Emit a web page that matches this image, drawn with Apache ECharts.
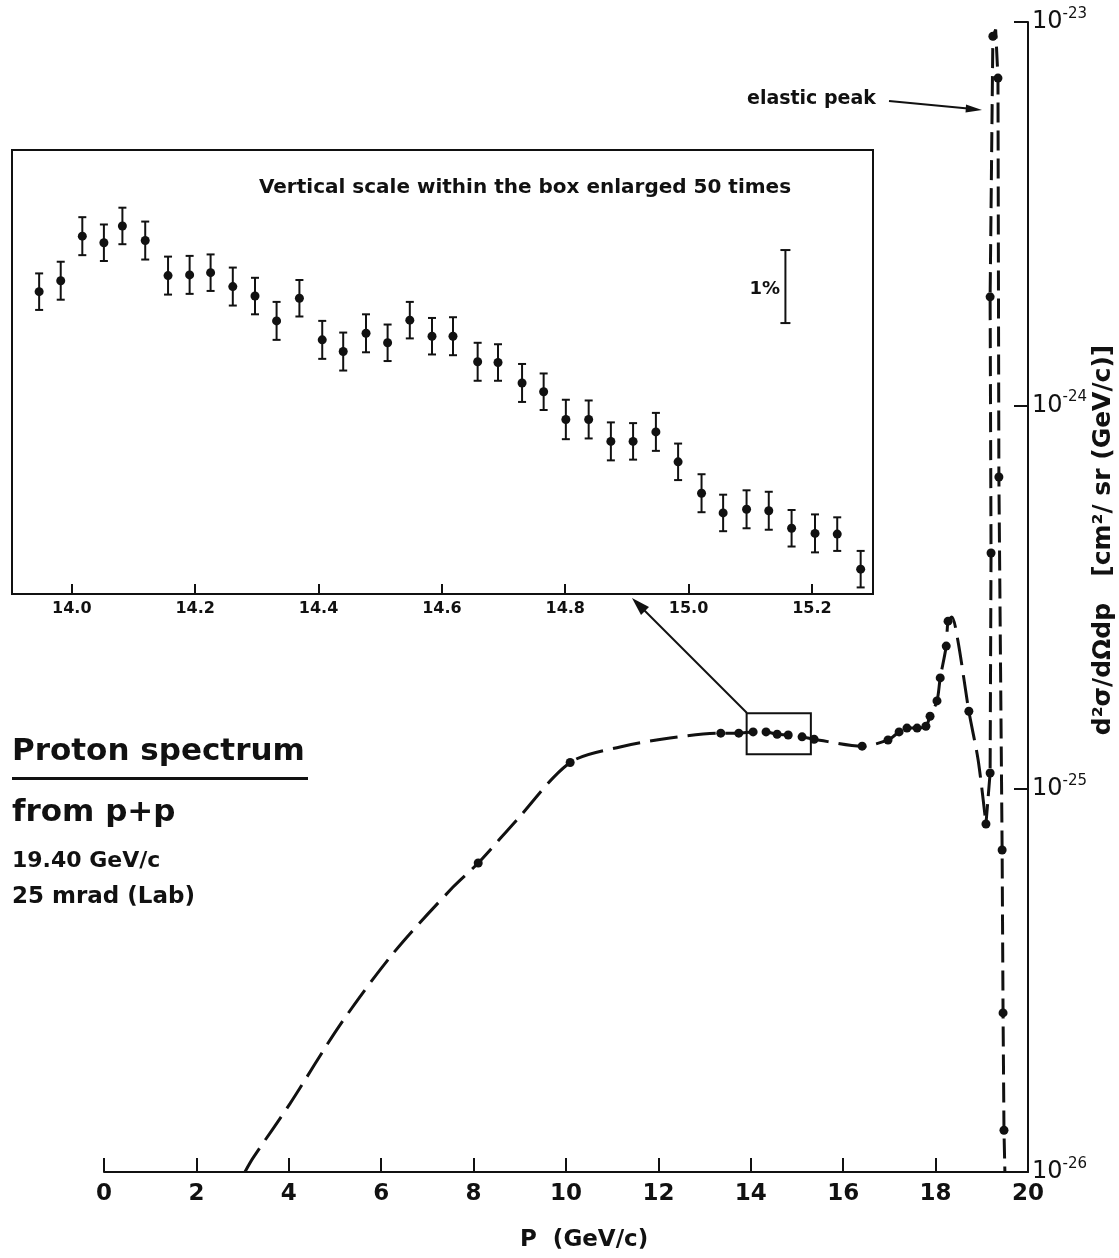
<!DOCTYPE html>
<html>
<head>
<meta charset="utf-8">
<title>Proton spectrum from p+p</title>
<style>
  html, body { margin: 0; padding: 0; background: #fff; }
  #container { width: 1119px; height: 1258px; }
</style>
</head>
<body>
<div id="container"></div>
<script src="https://cdn.jsdelivr.net/npm/echarts@6/dist/echarts.min.js"></script>
<script>
// main spectrum: dashed curve (cm^2/sr (GeV/c))
var curveP = [3.05, 3.23, 4.03, 5.11, 6.26, 7.55, 8.10, 8.94, 10.09, 11.17, 12.25, 13.35, 13.74, 14.05, 14.33,
  14.57, 14.81, 15.11, 15.37, 16.41, 16.97, 17.21, 17.38, 17.60, 17.79, 17.88, 18.03, 18.10, 18.23, 18.27,
  18.35, 18.48, 18.72, 18.92, 19.09, 19.18, 19.20, 19.18, 19.24, 19.30, 19.35, 19.37, 19.44, 19.46, 19.48, 19.50];
var curveSigma = [1.0e-26, 1.09e-26, 1.51e-26, 2.42e-26, 3.72e-26, 5.53e-26, 6.40e-26, 8.30e-26, 1.17e-25, 1.285e-25,
  1.355e-25, 1.396e-25, 1.396e-25, 1.406e-25, 1.406e-25, 1.387e-25, 1.380e-25, 1.365e-25, 1.346e-25, 1.291e-25,
  1.340e-25, 1.406e-25, 1.439e-25, 1.439e-25, 1.455e-25, 1.545e-25, 1.694e-25, 1.945e-25, 2.355e-25, 2.735e-25,
  2.805e-25, 2.443e-25, 1.592e-25, 1.189e-25, 8.09e-26, 1.099e-25, 4.12e-25, 1.919e-24, 9.18e-24, 9.55e-24,
  7.14e-24, 6.50e-25, 6.92e-26, 2.60e-26, 1.285e-26, 1.0e-26];
// the curve is smooth up to the dip before the elastic peak (index 34), then sharp
var curveSplit = 34;

// measured points on the main spectrum
var dotP = [8.10, 10.09, 13.35, 13.74, 14.05, 14.33, 14.57, 14.81, 15.11, 15.37, 16.41, 16.97, 17.21, 17.38, 17.60,
  17.79, 17.88, 18.03, 18.10, 18.23, 18.27, 18.72, 19.09, 19.18, 19.20, 19.18, 19.24, 19.35, 19.37, 19.44, 19.46, 19.48];
var dotSigma = [6.40e-26, 1.17e-25, 1.396e-25, 1.396e-25, 1.406e-25, 1.406e-25, 1.387e-25, 1.380e-25, 1.365e-25,
  1.346e-25, 1.291e-25, 1.340e-25, 1.406e-25, 1.439e-25, 1.439e-25, 1.455e-25, 1.545e-25, 1.694e-25, 1.945e-25,
  2.355e-25, 2.735e-25, 1.592e-25, 8.09e-26, 1.099e-25, 4.12e-25, 1.919e-24, 9.18e-24, 7.14e-24, 6.50e-25,
  6.92e-26, 2.60e-26, 1.285e-26];

// small box on the main plot (region that is enlarged)
var boxP = [13.91, 15.30];
var boxSigma = [1.23e-25, 1.574e-25];

// y axis decades
var yDecades = [1e-26, 1e-25, 1e-24, 1e-23];

// inset: relative scale in %, enlarged 50 times
var insetP = [13.947, 13.982, 14.017, 14.052, 14.082, 14.119, 14.156, 14.191, 14.225, 14.261, 14.297, 14.332,
  14.369, 14.406, 14.440, 14.477, 14.512, 14.548, 14.584, 14.618, 14.658, 14.691, 14.730, 14.765, 14.801,
  14.838, 14.874, 14.910, 14.947, 14.983, 15.021, 15.056, 15.094, 15.130, 15.167, 15.205, 15.241, 15.279];
var insetY = [4.14, 4.29, 4.90, 4.81, 5.04, 4.84, 4.36, 4.37, 4.40, 4.21, 4.08, 3.74, 4.05, 3.48, 3.32, 3.57,
  3.44, 3.75, 3.53, 3.53, 3.18, 3.17, 2.89, 2.77, 2.39, 2.39, 2.09, 2.09, 2.22, 1.81, 1.38, 1.11, 1.16, 1.14,
  0.90, 0.83, 0.82, 0.34];
var insetErr = [0.25, 0.26, 0.26, 0.25, 0.25, 0.26, 0.26, 0.26, 0.25, 0.26, 0.25, 0.26, 0.25, 0.26, 0.26, 0.26,
  0.25, 0.25, 0.25, 0.26, 0.26, 0.25, 0.26, 0.25, 0.27, 0.26, 0.26, 0.25, 0.26, 0.25, 0.26, 0.25, 0.26, 0.26,
  0.25, 0.26, 0.23, 0.25];
var insetTicks = [14.0, 14.2, 14.4, 14.6, 14.8, 15.0, 15.2];

// 1% scale bar inside the inset
var scaleBar = [[15.157, 4.21, 0.5]];

var FONT = '"DejaVu Sans", sans-serif';
var INK = '#111';
// the log axis works in units of 1e-26 to avoid tiny-number rounding
var UNIT = 1e-26;

var dom = document.getElementById('container');
var myChart = echarts.init(dom, null, {renderer: 'canvas'});

function errorBar(params, api) {
    var x = api.value(0), y = api.value(1), e = api.value(2);
    var c = api.coord([x, y]);
    var hi = api.coord([x, y + e]);
    var lo = api.coord([x, y - e]);
    var cap = 4;
    var ls = {stroke: INK, lineWidth: 2};
    return {
        type: 'group',
        children: [
            {type: 'line', shape: {x1: c[0], y1: hi[1], x2: c[0], y2: lo[1]}, style: ls},
            {type: 'line', shape: {x1: c[0] - cap, y1: hi[1], x2: c[0] + cap, y2: hi[1]}, style: ls},
            {type: 'line', shape: {x1: c[0] - cap, y1: lo[1], x2: c[0] + cap, y2: lo[1]}, style: ls},
            {type: 'circle', shape: {cx: c[0], cy: c[1], r: 4.5}, style: {fill: INK}}
        ]
    };
}

function scaleBarItem(params, api) {
    var x = api.value(0), y = api.value(1), e = api.value(2);
    var hi = api.coord([x, y + e]);
    var lo = api.coord([x, y - e]);
    var ls = {stroke: INK, lineWidth: 2};
    return {
        type: 'group',
        children: [
            {type: 'line', shape: {x1: hi[0], y1: hi[1], x2: lo[0], y2: lo[1]}, style: ls},
            {type: 'line', shape: {x1: hi[0] - 5, y1: hi[1], x2: hi[0] + 5, y2: hi[1]}, style: ls},
            {type: 'line', shape: {x1: lo[0] - 5, y1: lo[1], x2: lo[0] + 5, y2: lo[1]}, style: ls}
        ]
    };
}

function boxItem(params, api) {
    var a = api.coord([api.value(0), api.value(1)]);
    var b = api.coord([api.value(2), api.value(3)]);
    return {
        type: 'rect',
        shape: {x: a[0], y: b[1], width: b[0] - a[0], height: a[1] - b[1]},
        style: {fill: 'none', stroke: INK, lineWidth: 2}
    };
}

var curveData = curveP.map(function (p, i) { return [p, curveSigma[i] / UNIT]; });
var dotData = dotP.map(function (p, i) { return [p, dotSigma[i] / UNIT]; });
var boxData = [[boxP[0], boxSigma[0] / UNIT, boxP[1], boxSigma[1] / UNIT]];
var insetData = insetP.map(function (p, i) { return [p, insetY[i], insetErr[i]]; });

option = {
    animation: false,
    backgroundColor: '#fff',
    textStyle: {fontFamily: FONT, color: INK},
    grid: [
        {left: 104, top: 22, width: 924, height: 1150},
        {left: 12, top: 150, width: 861, height: 444, show: true,
         borderColor: INK, borderWidth: 2, backgroundColor: '#fff'}
    ],
    xAxis: [
        {
            gridIndex: 0, type: 'value', min: 0, max: 20, interval: 2,
            axisLine: {onZero: false, lineStyle: {color: INK, width: 2}},
            axisTick: {inside: true, length: 14, lineStyle: {color: INK, width: 2}},
            axisLabel: {color: INK, fontFamily: FONT, fontWeight: 'bold', fontSize: 23, margin: 11},
            splitLine: {show: false}
        },
        {
            gridIndex: 1, type: 'value', min: 13.903, max: 15.299,
            axisLine: {onZero: false, lineStyle: {color: INK, width: 2}},
            axisTick: {inside: true, length: 10, customValues: insetTicks, lineStyle: {color: INK, width: 2}},
            axisLabel: {customValues: insetTicks, color: INK, fontFamily: FONT, fontWeight: 'bold', fontSize: 16, margin: 7,
                formatter: function (v) { return v.toFixed(1); }},
            splitLine: {show: false}
        }
    ],
    yAxis: [
        {
            gridIndex: 0, type: 'log', logBase: 10,
            min: yDecades[0] / UNIT, max: yDecades[yDecades.length - 1] / UNIT, position: 'right',
            axisLine: {show: true, onZero: false, lineStyle: {color: INK, width: 2}},
            axisTick: {show: true, inside: true, length: 14, lineStyle: {color: INK, width: 2}},
            axisLabel: {
                margin: 4,
                formatter: function (v) {
                    var e = Math.round(Math.log(v * UNIT) / Math.LN10);
                    return '{b|10}{s|' + e + '}';
                },
                rich: {
                    b: {fontFamily: FONT, fontSize: 24, color: INK},
                    s: {fontFamily: FONT, fontSize: 15, color: INK, padding: [0, 0, 16, 0]}
                }
            },
            splitLine: {show: false}
        },
        {gridIndex: 1, type: 'value', min: 0, max: 6.08, show: false}
    ],
    series: [
        {
            name: 'curve', type: 'line', xAxisIndex: 0, yAxisIndex: 0,
            data: curveData.slice(0, curveSplit + 1), showSymbol: false, smooth: 0.3,
            lineStyle: {color: INK, width: 3, type: [28, 10]}
        },
        {
            name: 'curve peak', type: 'line', xAxisIndex: 0, yAxisIndex: 0,
            data: curveData.slice(curveSplit), showSymbol: false, smooth: false,
            lineStyle: {color: INK, width: 3, type: [20, 8]}
        },
        {
            name: 'points', type: 'scatter', xAxisIndex: 0, yAxisIndex: 0,
            data: dotData, symbol: 'circle', symbolSize: 9,
            itemStyle: {color: INK, opacity: 1}, z: 5
        },
        {
            name: 'box', type: 'custom', xAxisIndex: 0, yAxisIndex: 0,
            data: boxData, encode: {x: [0, 2], y: [1, 3]},
            renderItem: boxItem
        },
        {
            name: 'inset', type: 'custom', xAxisIndex: 1, yAxisIndex: 1,
            data: insetData, encode: {x: 0, y: 1},
            renderItem: errorBar, z: 10
        },
        {
            name: 'scale', type: 'custom', xAxisIndex: 1, yAxisIndex: 1,
            data: scaleBar, encode: {x: 0, y: 1},
            renderItem: scaleBarItem, z: 10
        }
    ],
    graphic: [
        {type: 'text', x: 747, y: 99, style: {text: 'elastic peak', font: 'bold 19px ' + FONT, fill: INK, textVerticalAlign: 'middle'}},
        {type: 'line', shape: {x1: 889, y1: 101, x2: 968, y2: 108.5}, style: {stroke: INK, lineWidth: 2}},
        {type: 'polygon', shape: {points: [[982, 110], [966, 104.5], [965.5, 112.5]]}, style: {fill: INK}},

        {type: 'text', x: 525, y: 188, style: {text: 'Vertical scale within the box enlarged 50 times',
            font: 'bold 20px ' + FONT, fill: INK, textAlign: 'center', textVerticalAlign: 'middle'}, z: 20},
        {type: 'text', x: 780, y: 289, style: {text: '1%', font: 'bold 18px ' + FONT, fill: INK,
            textAlign: 'right', textVerticalAlign: 'middle'}, z: 20},

        {type: 'line', shape: {x1: 747, y1: 713, x2: 642, y2: 608}, style: {stroke: INK, lineWidth: 2}},
        {type: 'polygon', shape: {points: [[632, 598], [649, 607], [641, 615]]}, style: {fill: INK}},

        {type: 'text', x: 12, y: 752, style: {text: 'Proton spectrum', font: 'bold 31px ' + FONT, fill: INK, textVerticalAlign: 'middle'}},
        {type: 'rect', shape: {x: 12, y: 777, width: 296, height: 3}, style: {fill: INK}},
        {type: 'text', x: 12, y: 813, style: {text: 'from p+p', font: 'bold 31px ' + FONT, fill: INK, textVerticalAlign: 'middle'}},
        {type: 'text', x: 12, y: 861, style: {text: '19.40 GeV/c', font: 'bold 22px ' + FONT, fill: INK, textVerticalAlign: 'middle'}},
        {type: 'text', x: 12, y: 897, style: {text: '25 mrad (Lab)', font: 'bold 23px ' + FONT, fill: INK, textVerticalAlign: 'middle'}},

        {type: 'text', x: 520, y: 1240, style: {text: 'P  (GeV/c)', font: 'bold 23px ' + FONT, fill: INK, textVerticalAlign: 'middle'}},

        {type: 'text', x: 1103, y: 540, rotation: Math.PI / 2,
         style: {text: 'd\u00b2\u03c3/d\u03a9dp   [cm\u00b2/ sr (GeV/c)]', font: 'bold 25px ' + FONT, fill: INK,
                 textAlign: 'center', textVerticalAlign: 'middle'}}
    ]
};

if (option && typeof option === 'object') {
    myChart.setOption(option, true);
}
</script>
</body>
</html>
